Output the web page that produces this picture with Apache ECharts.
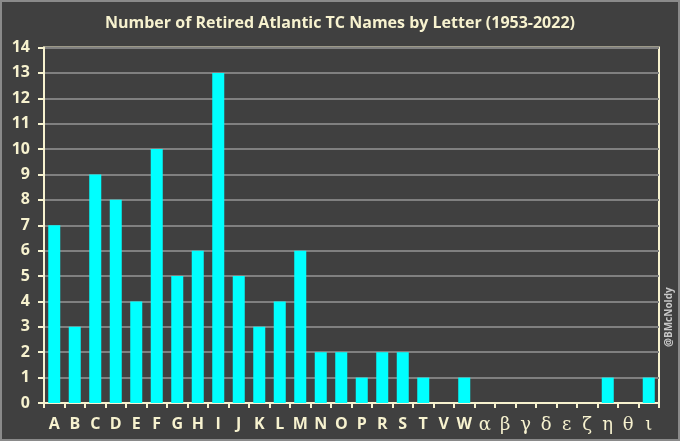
<!DOCTYPE html>
<html><head><meta charset="utf-8">
<script src="https://cdn.jsdelivr.net/npm/echarts@6/dist/echarts.min.js"></script>
<style>
html,body{margin:0;padding:0;background:#404040;}
#c{width:680px;height:441px;box-sizing:border-box;border:2px solid #8a8a8a;}
</style></head><body>
<div id="c"></div>
<script>
const categories = ['A','B','C','D','E','F','G','H','I','J','K','L','M','N','O','P','R','S','T','V','W','α','β','γ','δ','ε','ζ','η','θ','ι'];
const retiredCounts = [7,3,9,8,4,10,5,6,13,5,3,4,6,2,2,1,2,2,1,0,1,0,0,0,0,0,0,1,0,1];
const greek = new Set(['α','β','γ','δ','ε','ζ','η','θ','ι']);
const cream = '#f7f2cf';
const chart = echarts.init(document.getElementById('c'));
chart.setOption({
  backgroundColor: '#404040',
  animation: false,
  title: {
    text: 'Number of Retired Atlantic TC Names by Letter (1953-2022)',
    left: 'center', top: 8,
    textStyle: {color: cream, fontFamily: 'Open Sans', fontWeight: 'bold', fontSize: 16}
  },
  grid: {left: 42, right: 19, top: 45.5, bottom: 36, show: true, borderColor: cream, borderWidth: 2, backgroundColor: 'transparent'},
  xAxis: {
    type: 'category', data: categories,
    axisLine: {lineStyle: {color: cream, width: 2}},
    axisTick: {show: true, alignWithLabel: false, length: 5, lineStyle: {color: cream, width: 2}},
    axisLabel: {
      color: cream, margin: 13, interval: 0,
      formatter: v => greek.has(v) ? '{g|' + v + '}' : '{l|' + v + '}',
      rich: {
        l: {fontFamily: 'Open Sans', fontWeight: 'bold', fontSize: 16, color: cream},
        g: {fontFamily: 'DejaVu Serif', fontSize: 18, color: cream}
      }
    }
  },
  yAxis: {
    type: 'value', min: 0, max: 14, interval: 1,
    axisLine: {show: true, lineStyle: {color: cream, width: 2}},
    axisTick: {show: true, length: 6, lineStyle: {color: cream, width: 2}},
    axisLabel: {color: cream, fontFamily: 'Open Sans', fontWeight: 'bold', fontSize: 16, margin: 14},
    splitLine: {lineStyle: {color: '#808080', width: 2}}
  },
  series: [{
    type: 'bar', data: retiredCounts, barWidth: 12,
    itemStyle: {color: '#00ffff'}
  }],
  graphic: [{
    type: 'text', rotation: Math.PI/2, x: 662, y: 345,
    style: {text: '@BMcNoldy', fill: '#c8c8c8', font: 'bold 10px "Open Sans"', verticalAlign: 'top', align: 'left'}
  }]
});
</script>
</body></html>
